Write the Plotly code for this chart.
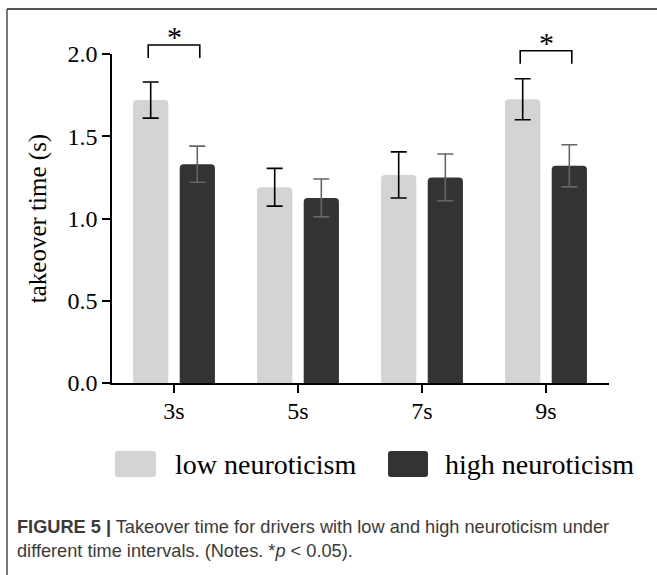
import plotly.graph_objects as go

# ---------------- data ----------------
categories = ["3s", "5s", "7s", "9s"]
low_mean = [1.72, 1.19, 1.265, 1.725]
low_err = [0.11, 0.115, 0.14, 0.125]
high_mean = [1.33, 1.125, 1.25, 1.32]
high_err = [0.11, 0.115, 0.142, 0.128]
series_names = ["low neuroticism", "high neuroticism"]
sig_categories = ["3s", "9s"]
y_ticks = [0.0, 0.5, 1.0, 1.5, 2.0]

# ---------------- styling / geometry ----------------
W, H = 657, 575
L, R, T, B = 112, 48, 54, 192
PW, PH = W - L - R, H - T - B
LOW_C, HIGH_C = "#d4d4d4", "#333333"
SERIF = "Liberation Serif, Times New Roman, serif"
SANS = "Liberation Sans, Arial, sans-serif"
YMAX = 2.0
sig_gap = [0.225, 0.17]   # bracket clearance above the taller error bar


def px(x):
    return (x - L) / PW


def py(y):
    return (H - B - y) / PH


xpos = list(range(len(categories)))
bar_w = 0.284
off_low, off_high = -0.33, 0.046
c_low = off_low + bar_w / 2
c_high = off_high + bar_w / 2

fig = go.Figure()
fig.add_trace(go.Bar(
    x=xpos, y=low_mean, width=bar_w, offset=off_low, name=series_names[0],
    marker=dict(color=LOW_C, line=dict(width=0), cornerradius=4),
    error_y=dict(type="data", array=low_err, color="black", thickness=1.6, width=8),
    showlegend=False,
))
fig.add_trace(go.Bar(
    x=xpos, y=high_mean, width=bar_w, offset=off_high, name=series_names[1],
    marker=dict(color=HIGH_C, line=dict(width=0), cornerradius=4),
    error_y=dict(type="data", array=high_err, color="#666666", thickness=1.6, width=8),
    showlegend=False,
))

fig.update_layout(
    width=W, height=H, barmode="overlay",
    margin=dict(l=L, r=R, t=T, b=B, pad=0),
    plot_bgcolor="white", paper_bgcolor="white",
    font=dict(family=SERIF, color="black"),
)
fig.update_xaxes(
    range=[-0.5, 3.508], tickvals=xpos, ticktext=categories,
    ticks="outside", ticklen=8, tickwidth=1.5, tickcolor="black",
    showline=True, linecolor="black", linewidth=1.5,
    showgrid=False, zeroline=False, tickfont=dict(size=24, family=SERIF),
    ticklabelstandoff=-3,
)
fig.update_yaxes(
    range=[0, YMAX], tickvals=y_ticks, tickformat=".1f",
    ticks="outside", ticklen=8, tickwidth=1.5, tickcolor="black",
    showline=True, linecolor="black", linewidth=1.5,
    showgrid=False, zeroline=False, tickfont=dict(size=24, family=SERIF),
    title=dict(text="takeover time (s)", font=dict(size=25, family=SERIF), standoff=14),
)

shapes = []
annotations = []

# significance brackets
for k, cat in enumerate(sig_categories):
    i = categories.index(cat)
    top = max(low_mean[i] + low_err[i], high_mean[i] + high_err[i]) + sig_gap[k]
    leg = top - 0.08
    x0, x1 = i + c_low - 0.02, i + c_high + 0.02
    shapes.append(dict(
        type="path", xref="x", yref="paper",
        path=f"M {x0},{leg / YMAX} L {x0},{top / YMAX} L {x1},{top / YMAX} L {x1},{leg / YMAX}",
        line=dict(color="black", width=1.6),
    ))
    annotations.append(dict(
        x=i + (c_low + c_high) / 2, y=top / YMAX, xref="x", yref="paper",
        text="*", showarrow=False, yanchor="bottom", yshift=-10,
        font=dict(family=SERIF, size=30, color="black"),
    ))

# custom legend
def rrect(x0, y0, x1, y1, r):
    rx, ry = r / PW, r / PH
    X0, X1 = px(x0), px(x1)
    Y0, Y1 = py(y1), py(y0)  # Y0 bottom, Y1 top in paper
    return (f"M {X0 + rx},{Y1} L {X1 - rx},{Y1} Q {X1},{Y1} {X1},{Y1 - ry} "
            f"L {X1},{Y0 + ry} Q {X1},{Y0} {X1 - rx},{Y0} L {X0 + rx},{Y0} "
            f"Q {X0},{Y0} {X0},{Y0 + ry} L {X0},{Y1 - ry} Q {X0},{Y1} {X0 + rx},{Y1} Z")

leg_y = 464
for (sx0, sx1, tx, name, col) in [(115, 156, 173, series_names[0], LOW_C),
                                   (388, 428, 443, series_names[1], HIGH_C)]:
    shapes.append(dict(type="path", xref="paper", yref="paper",
                       path=rrect(sx0, leg_y - 13, sx1, leg_y + 13, 3),
                       fillcolor=col, line=dict(width=0)))
    annotations.append(dict(x=px(tx), y=py(leg_y), xref="paper", yref="paper",
                            xanchor="left", yanchor="middle", showarrow=False,
                            text=name, font=dict(family=SERIF, size=28, color="black")))

# frame lines (top + left)
shapes.append(dict(type="line", xref="paper", yref="paper", x0=px(7), x1=px(660),
                   y0=py(9), y1=py(9), line=dict(color="#555555", width=2)))
shapes.append(dict(type="line", xref="paper", yref="paper", x0=px(7), x1=px(7),
                   y0=py(9), y1=py(580), line=dict(color="#555555", width=1.6)))

# caption
annotations.append(dict(
    x=px(15), y=py(515), xref="paper", yref="paper", xanchor="left", yanchor="top",
    align="left", showarrow=False,
    text=("<b>FIGURE 5 |</b> Takeover time for drivers with low and high neuroticism under"
          "<br>different time intervals. (Notes. *<i>p</i> &lt; 0.05)."),
    font=dict(family=SANS, size=18.2, color="#3a3a3a"),
))

fig.update_layout(shapes=shapes, annotations=annotations)
fig.write_html("out.html")
